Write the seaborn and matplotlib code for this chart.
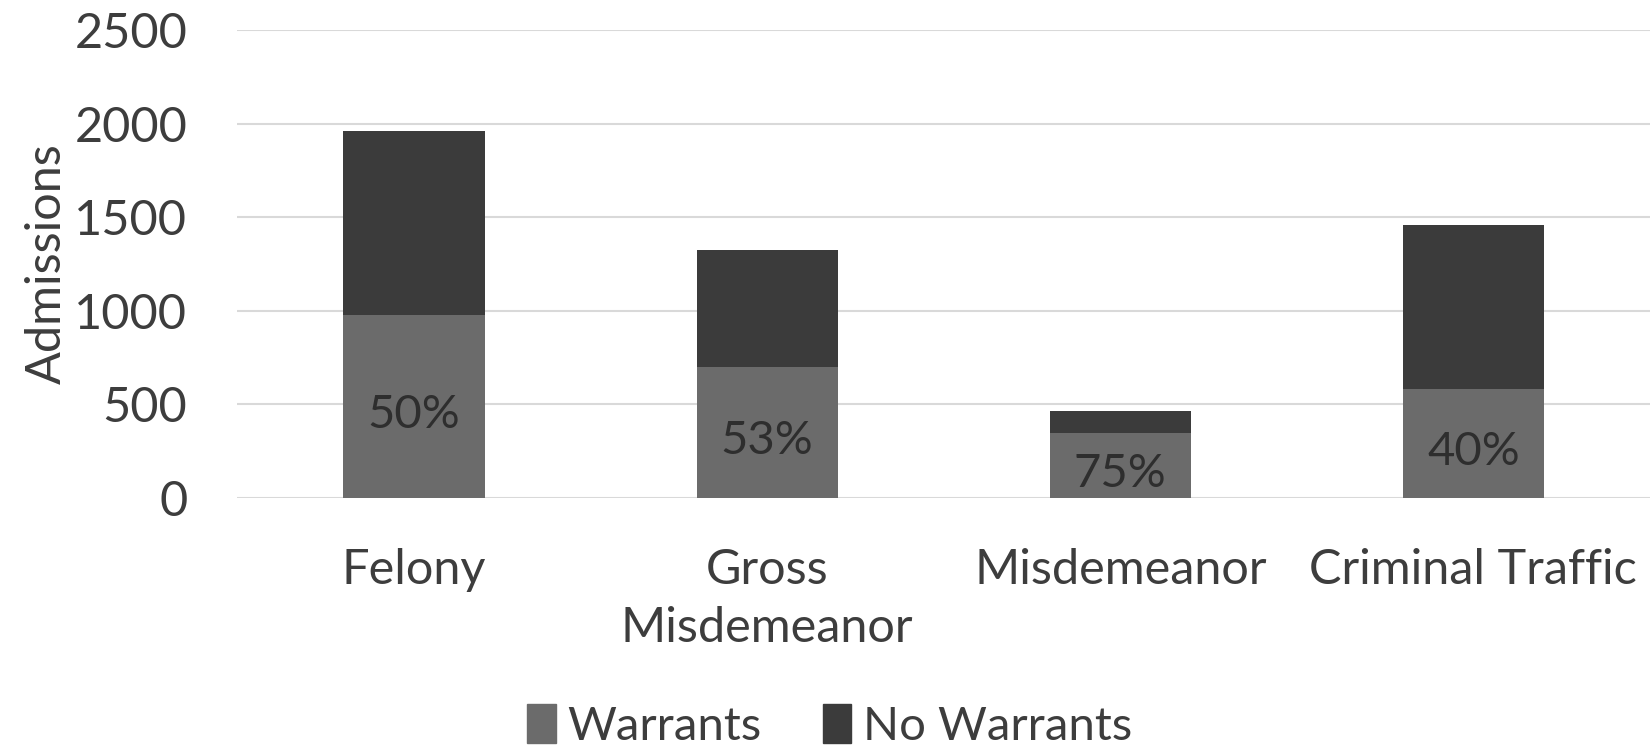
import matplotlib
matplotlib.use("Agg")
import matplotlib.pyplot as plt
import seaborn as sns
import pandas as pd
from matplotlib.patches import Patch

categories = ["Felony", "Gross\nMisdemeanor", "Misdemeanor", "Criminal Traffic"]
warrants = [980, 701, 349, 580]
no_warrants = [982, 624, 117, 878]
pct_labels = ["50%", "53%", "75%", "40%"]
yticks = [0, 500, 1000, 1500, 2000, 2500]

sns.set_theme(style="white")
plt.rcParams['font.family'] = ['Lato', 'DejaVu Sans']

text_col = "#3d3d3d"
c_warr = "#6b6b6b"
c_nowarr = "#3b3b3b"

df = pd.DataFrame({"cat": categories, "warr": warrants,
                   "total": [w + n for w, n in zip(warrants, no_warrants)]})

fig = plt.figure(figsize=(16.5, 7.5), dpi=100)
ax = fig.add_axes([0.1439, 0.336, 0.8561, 0.624])

sns.barplot(data=df, x="cat", y="total", color=c_nowarr, width=0.4,
            saturation=1, ax=ax, zorder=3, linewidth=0, edgecolor="none")
sns.barplot(data=df, x="cat", y="warr", color=c_warr, width=0.4,
            saturation=1, ax=ax, zorder=3, linewidth=0, edgecolor="none")

warr_container = ax.containers[1]
ax.bar_label(warr_container, labels=pct_labels, label_type="center",
             fontsize=34, color="#2e2e2e", padding=-6)

ax.set_ylim(0, 2500)
ax.set_xlim(-0.5, 3.5)
ax.set_yticks(yticks)
ax.set_yticklabels([str(v) for v in yticks], fontsize=35, color=text_col)
ax.tick_params(axis="y", length=0, pad=36)
ax.tick_params(axis="x", length=0, pad=36, labelsize=35, labelcolor=text_col)
for lbl in ax.get_xticklabels():
    lbl.set_linespacing(1.4)
ax.set_xlabel("")
ax.set_ylabel("Admissions", fontsize=35, color=text_col, labelpad=4)
ax.grid(axis="y", color="#d9d9d9", linewidth=1.5, zorder=0)
ax.set_axisbelow(True)
for s in ax.spines.values():
    s.set_visible(False)

handles = [Patch(color=c_warr, label="Warrants"), Patch(color=c_nowarr, label="No Warrants")]
leg = fig.legend(handles=handles, loc="center", bbox_to_anchor=(0.503, 0.032),
                 ncol=2, frameon=False, fontsize=34, handlelength=0.6,
                 handleheight=0.9, handletextpad=0.25, columnspacing=1.3)
for t in leg.get_texts():
    t.set_color(text_col)

fig.savefig("out.png", dpi=100, facecolor="white")
